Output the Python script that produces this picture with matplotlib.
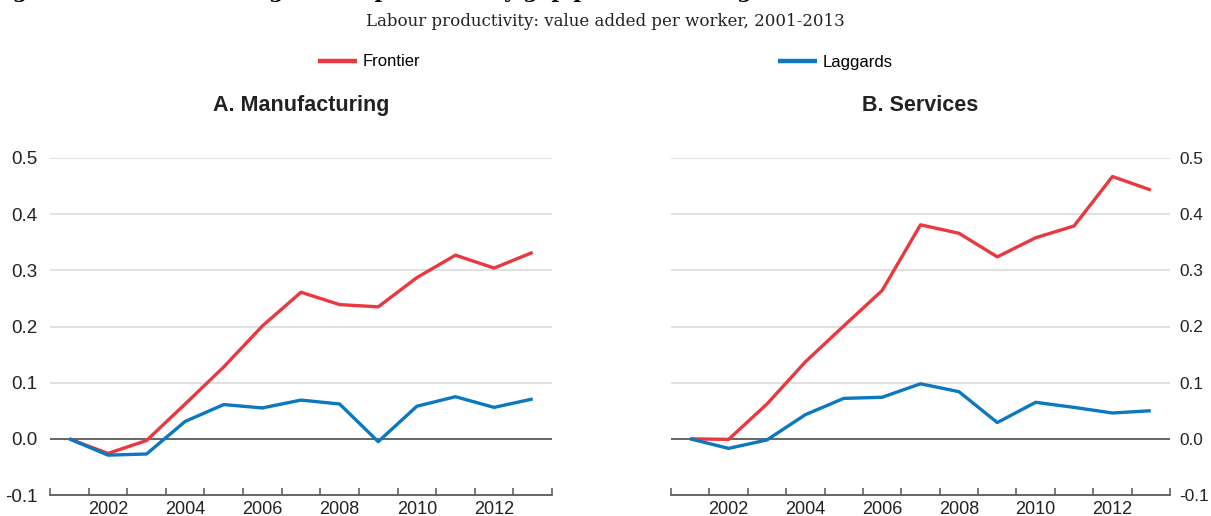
import numpy as np
import matplotlib
matplotlib.use("Agg")
import matplotlib.pyplot as plt

plt.rcParams['font.family'] = ['Liberation Sans', 'DejaVu Sans']

years = list(range(2001, 2014))
series_names = ["Frontier", "Laggards"]
panel_titles = ["A. Manufacturing", "B. Services"]

manuf_frontier = [0.000, -0.026, -0.003, 0.062, 0.128, 0.201, 0.261, 0.239, 0.235, 0.287, 0.327, 0.304, 0.332]
manuf_laggards = [0.000, -0.029, -0.027, 0.031, 0.061, 0.055, 0.069, 0.062, -0.005, 0.058, 0.075, 0.056, 0.071]
serv_frontier = [0.000, -0.001, 0.062, 0.137, 0.201, 0.264, 0.381, 0.366, 0.324, 0.358, 0.379, 0.467, 0.443]
serv_laggards = [0.000, -0.017, -0.002, 0.043, 0.072, 0.074, 0.098, 0.084, 0.029, 0.065, 0.056, 0.046, 0.050]

yticks = [-0.1, 0.0, 0.1, 0.2, 0.3, 0.4, 0.5]
ytick_labels = ["-0.1", "0.0", "0.1", "0.2", "0.3", "0.4", "0.5"]

RED = '#e9383f'
BLUE = '#0b78bf'
GRID = '#d9d9d9'
DARK = '#595959'

W, H = 1211, 516
fig = plt.figure(figsize=(W / 100, H / 100), dpi=100)


def px_axes(x0, x1, ytop, ybot):
    return fig.add_axes([x0 / W, 1 - ybot / H, (x1 - x0) / W, (ybot - ytop) / H])


def style_panel(ax, title, side):
    x = np.arange(len(years))
    ax.set_xlim(-0.5, len(years) - 0.5)
    ax.set_ylim(-0.1, 0.5)
    for s in ['top', 'left', 'right']:
        ax.spines[s].set_visible(False)
    ax.spines['bottom'].set_color(DARK)
    ax.spines['bottom'].set_linewidth(1.3)
    for yv in yticks[2:]:
        ax.axhline(yv, color=GRID, lw=1.1, zorder=0)
    ax.axhline(0.0, color=DARK, lw=1.3, zorder=1)

    # year boundaries as tick marks, every other year labelled
    ax.set_xticks(np.arange(-0.5, len(years)), minor=True)
    ax.set_xticks(x[1::2])
    ax.set_xticklabels([str(y) for y in years[1::2]])
    ax.tick_params(axis='x', which='minor', direction='in', length=5, width=1.1, color=DARK)
    ax.tick_params(axis='x', which='major', length=0, pad=4, labelsize=13, labelcolor='#222222')

    ax.set_yticks(yticks)
    ax.set_yticklabels(ytick_labels)
    if side == 'right':
        ax.yaxis.tick_right()
        ax.tick_params(axis='y', length=0, labelsize=12.4, labelcolor='#222222', pad=7)
    else:
        ax.tick_params(axis='y', length=0, labelsize=13.5, labelcolor='#222222', pad=9)
    ax.set_title(title, fontsize=15.5, fontweight='bold', pad=34, color='#222222')


ax1 = px_axes(50, 552, 158, 495)
ax2 = px_axes(671, 1170, 158, 495)

x = np.arange(len(years))
ax1.plot(x, manuf_frontier, color=RED, lw=2.4, solid_capstyle='butt', zorder=3, label=series_names[0])
ax1.plot(x, manuf_laggards, color=BLUE, lw=2.4, solid_capstyle='butt', zorder=4, label=series_names[1])
ax2.plot(x, serv_frontier, color=RED, lw=2.4, solid_capstyle='butt', zorder=3)
ax2.plot(x, serv_laggards, color=BLUE, lw=2.4, solid_capstyle='butt', zorder=4)

style_panel(ax1, panel_titles[0], 'left')
style_panel(ax2, panel_titles[1], 'right')

handles, labels = ax1.get_legend_handles_labels()
leg = fig.legend(handles, labels, loc='center', bbox_to_anchor=(0.5, 1 - 62 / H), ncol=2,
                 frameon=False, fontsize=12, handlelength=2.3, handletextpad=0.35,
                 columnspacing=21.5)
for line in leg.get_lines():
    line.set_linewidth(3.2)

# headline sits above the top edge, only its descenders show
fig.text(-0.008, 1 + 1.5 / H, "Figure 1.1. The widening labour productivity gap persists among firms",
         family=['DejaVu Serif'], fontweight='bold', fontsize=15, va='baseline', ha='left')
fig.text(0.5, 1 - 22 / H, "Labour productivity: value added per worker, 2001-2013",
         family=['DejaVu Serif'], fontsize=12, va='center', ha='center', color='#222222')

fig.savefig("out.png", dpi=100)
